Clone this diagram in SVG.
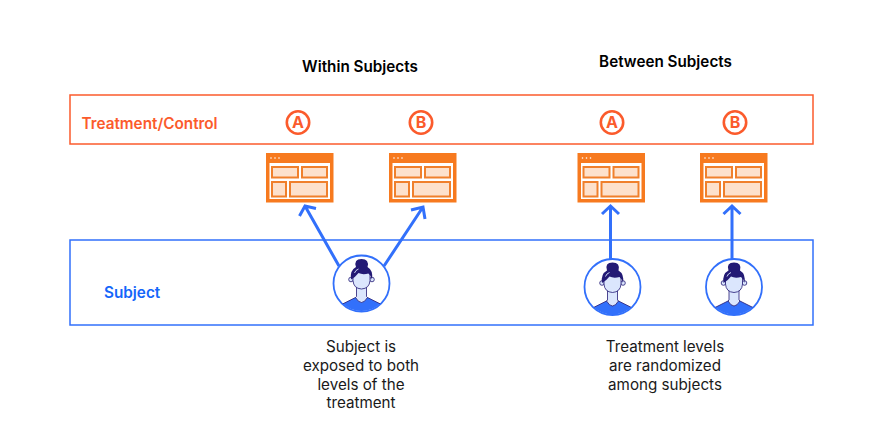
<svg xmlns="http://www.w3.org/2000/svg" width="871" height="433" viewBox="0 0 871 433">
<style>
text{font-family:Inter,"Liberation Sans",sans-serif}
.h{font-size:15.250px;font-weight:600;fill:#000;text-anchor:middle}
.d{font-size:15.200px;fill:#1a1a1a;text-anchor:middle}
.lab{font-size:15.300px;font-weight:600}
.band{fill:#fff;stroke-width:1.500}
.conn{stroke:#3270fb;stroke-width:3;fill:none}
.badge{fill:#fff;stroke:#fb5b2c;stroke-width:2.600}
.bt{font-size:16px;font-weight:700;fill:#fb5b2c;text-anchor:middle}
.p{fill:#fde1cc;stroke:#f0802c;stroke-width:2}
.skin{fill:#dbe6fd;stroke:#231a75;stroke-width:.8}
</style>
<defs>
<g id="win">
<rect x="0" y="0" width="67.500" height="49.500" fill="#f77a1f"/>
<rect x="3.500" y="10" width="60.500" height="36" fill="#fff"/>
<circle cx="5" cy="5" r=".8" fill="#fff"/><circle cx="9" cy="5" r=".8" fill="#fff"/><circle cx="13" cy="5" r=".8" fill="#fff"/>
<rect class="p" x="6" y="14" width="26" height="10.500"/>
<rect class="p" x="36" y="14" width="25" height="10.500"/>
<rect class="p" x="6" y="29" width="14" height="14.500"/>
<rect class="p" x="24" y="29" width="37" height="14.500"/>
</g>
<clipPath id="cc"><circle cx="0" cy="0" r="27.500"/></clipPath>
<g id="person">
<circle r="28" fill="#fff" stroke="#3270fb" stroke-width="1.800"/>
<g clip-path="url(#cc)">
<path d="M-20 21 L-6 14 L6 14 L20 21 L22 32 L-22 32Z" fill="#3270fb" stroke="#231a75" stroke-width=".8"/>
<path d="M-5 0 V13 L-6 14 Q0 24 6 14 L5 13 V0Z" class="skin"/>
</g>
<circle cx="-10.500" cy="-4" r="2.300" class="skin"/>
<circle cx="10.500" cy="-4" r="2.300" class="skin"/>
<path d="M-8.500 -10 V-3 Q-8 5 0 5.500 Q8 5 8.500 -3 V-10 Q0 -16 -8.500 -10Z" class="skin"/>
<path d="M-10.500 -4 Q-12 -13 -5.500 -16.500 Q-8 -24.500 0 -24.500 Q8 -24.500 6 -16.500 Q12 -13 10.500 -4 Q9.500 -8 7 -10 Q1 -8.500 -3 -10.500 Q-6 -6.500 -10.500 -4Z" fill="#231a75"/>
<path d="M-7 -10.500 Q-6 -13.500 -3 -14.500" fill="none" stroke="#dbe6fd" stroke-width=".9"/>
</g>
</defs>
<rect width="871" height="433" fill="#fff"/>
<g id="treatment-band">
<rect class="band" x="70" y="95" width="743" height="49" stroke="#fb5b2c"/>
<text class="lab" x="81.500" y="129" fill="#fb5b2c">Treatment/Control</text>
</g>
<g id="subject-band">
<rect class="band" x="70" y="240" width="743" height="85" stroke="#3270fb"/>
<text class="lab" x="104" y="298" fill="#1466fa">Subject</text>
</g>
<text class="h" x="360" y="72">Within Subjects</text>
<text class="h" x="665.500" y="67">Between Subjects</text>
<g id="badge-a1"><circle class="badge" cx="298" cy="122.500" r="11.200"/><text class="bt" x="298" y="128.300">A</text></g>
<g id="badge-b1"><circle class="badge" cx="421" cy="122.500" r="11.200"/><text class="bt" x="421" y="128.300">B</text></g>
<g id="badge-a2"><circle class="badge" cx="612" cy="122.500" r="11.200"/><text class="bt" x="612" y="128.300">A</text></g>
<g id="badge-b2"><circle class="badge" cx="735" cy="122.500" r="11.200"/><text class="bt" x="735" y="128.300">B</text></g>
<g id="window-a1"><use href="#win" x="266" y="153"/></g>
<g id="window-b1"><use href="#win" x="389" y="153"/></g>
<g id="window-a2"><use href="#win" x="577.500" y="153"/></g>
<g id="window-b2"><use href="#win" x="700" y="153"/></g>
<g id="connectors">
<path class="conn" d="M339 266 L305 206 M299.500 216 L305 206 L316 208.500"/>
<path class="conn" d="M384 266 L423 207 M411 210 L423 207 L425 219"/>
<path class="conn" d="M610.500 259 V206 M602 214 L610.500 206 L619 214"/>
<path class="conn" d="M732 259 V206 M723.500 214 L732 206 L740.500 214"/>
</g>
<g id="person-1"><use href="#person" x="361.500" y="283.500"/></g>
<g id="person-2"><use href="#person" x="612.500" y="287"/></g>
<g id="person-3"><use href="#person" x="734" y="287"/></g>
<g id="caption-within">
<text class="d" x="361" y="352">Subject is</text>
<text class="d" x="361" y="371">exposed to both</text>
<text class="d" x="361" y="390">levels of the</text>
<text class="d" x="361" y="408">treatment</text>
</g>
<g id="caption-between">
<text class="d" x="665" y="352">Treatment levels</text>
<text class="d" x="665" y="371">are randomized</text>
<text class="d" x="665" y="390">among subjects</text>
</g>
</svg>
